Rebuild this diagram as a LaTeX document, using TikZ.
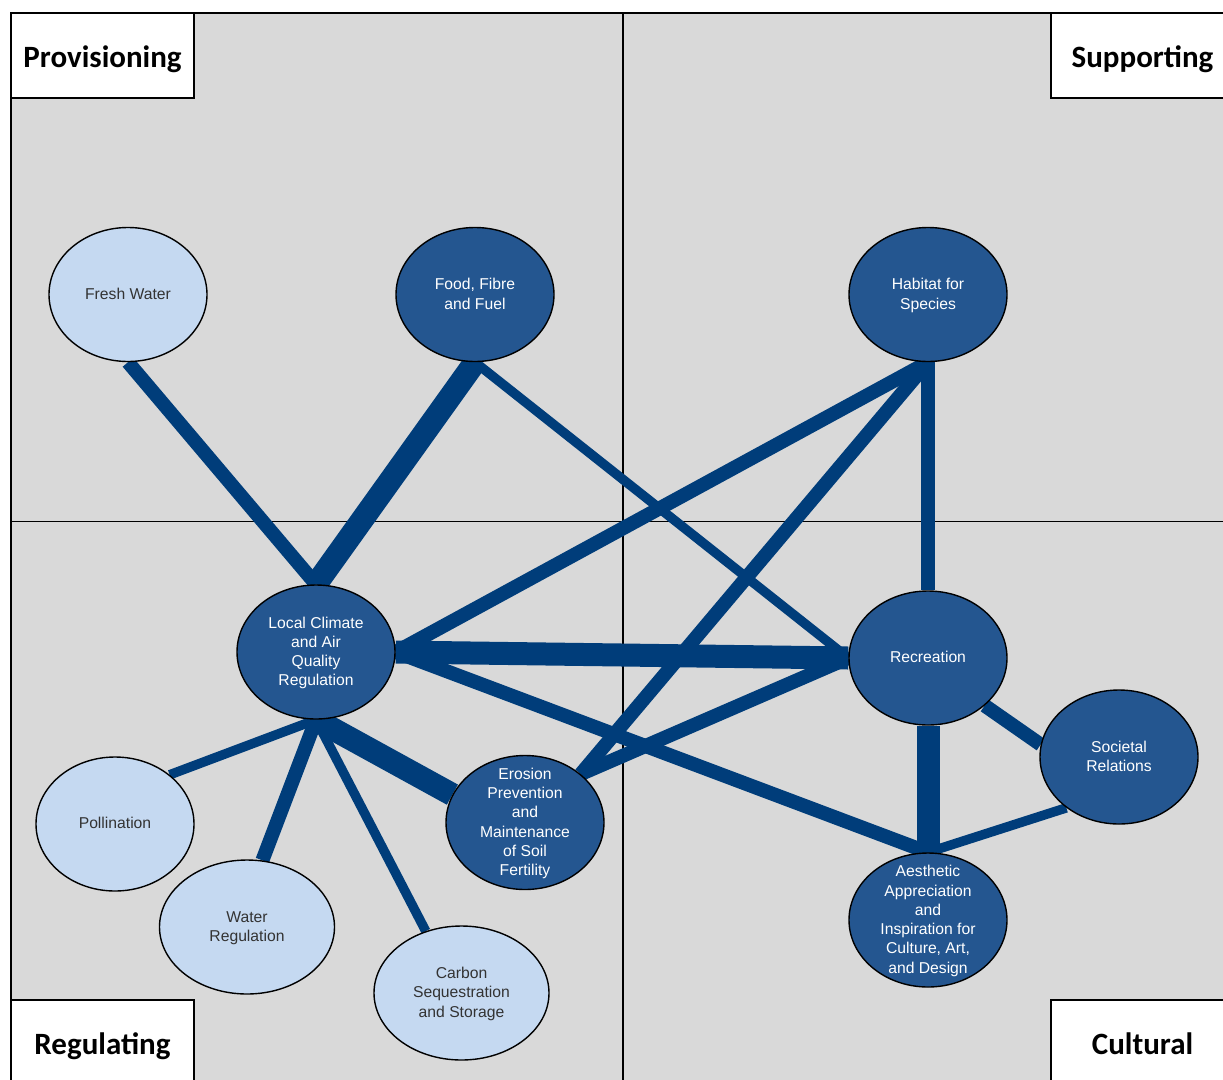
\documentclass[tikz,border=0pt]{standalone}
\usepackage{fontspec}
\setmainfont{Liberation Sans}
\newfontfamily\titlefont{Carlito}
\usetikzlibrary{shapes.geometric}

\definecolor{bubblelight}{RGB}{197,217,241}
\definecolor{bubbledark}{RGB}{36,86,144}
\definecolor{linkblue}{RGB}{0,61,122}
\definecolor{panelgrey}{RGB}{217,217,217}

\pgfdeclarelayer{bg}
\pgfdeclarelayer{links}
\pgfsetlayers{bg,links,main}

% text that does not grow the ellipse
\newcommand{\bubbletext}[1]{\makebox[0pt]{\smash{\raisebox{-0.3em}{\begin{tabular}{@{}c@{}}#1\end{tabular}}}}}

\begin{document}
\begin{tikzpicture}[x=1pt,y=-1pt,
        every node/.style={font=\fontsize{15.7}{19.3}\selectfont},
        bubble/.style={ellipse, draw=black, line width=1.4pt, inner sep=0pt,
            minimum width=158pt, minimum height=134pt},
        light/.style={bubble, fill=bubblelight, text=black!80},
        dark/.style={bubble, fill=bubbledark, text=white},
        wide/.style={minimum width=175pt},
        corner/.style={draw=black, line width=1.7pt, fill=white,
            minimum width=183pt, minimum height=85pt,
            text height=23pt, text depth=0pt,
            font=\titlefont\bfseries\fontsize{31}{36}\selectfont},
        weak/.style={draw=linkblue, line width=9.5pt},
        medium/.style={draw=linkblue, line width=14pt},
        strong/.style={draw=linkblue, line width=23pt}
    ]
    \clip (0,0) rectangle (1223,1079);
    \useasboundingbox (0,0) rectangle (1223,1079);

    % quadrants
    \begin{pgfonlayer}{bg}
        \fill[panelgrey] (11,13) rectangle (1240,1100);
        \draw[line width=1.8pt] (1240,13) -- (11,13) -- (11,1100);
        \draw[line width=1.6pt] (623,13) -- (623,1100);
        \draw[line width=1.6pt] (11,521.5) -- (1240,521.5);
    \end{pgfonlayer}

    \node[corner] (prov) at (102.5,55.5) {Provisioning};
    \node[corner] (supp) at (1142.5,55.5) {Supporting};
    \node[corner] (regu) at (102.5,1042.5) {Regulating};
    \node[corner] (cult) at (1142.5,1042.5) {Cultural};

    % services
    \node[light] (fresh) at (128,294.5) {\bubbletext{Fresh Water}};
    \node[dark] (food) at (475,294.5) {\bubbletext{Food, Fibre\\and Fuel}};
    \node[dark] (habitat) at (928,294.5) {\bubbletext{Habitat for\\Species}};
    \node[dark] (climate) at (316,652) {\bubbletext{Local Climate\\and Air\\Quality\\Regulation}};
    \node[dark] (recreation) at (928,658) {\bubbletext{Recreation}};
    \node[dark] (societal) at (1119,757) {\bubbletext{Societal\\Relations}};
    \node[dark] (erosion) at (525,822.5) {\bubbletext{Erosion\\Prevention\\and\\Maintenance\\of Soil\\Fertility}};
    \node[dark] (aesthetic) at (928,920) {\bubbletext{Aesthetic\\Appreciation\\and\\Inspiration for\\Culture, Art,\\and Design}};
    \node[light] (pollination) at (115,824) {\bubbletext{Pollination}};
    \node[light, wide] (waterreg) at (247,927) {\bubbletext{Water\\Regulation}};
    \node[light, wide] (carbon) at (461.5,993) {\bubbletext{Carbon\\Sequestration\\and Storage}};

    % links
    \begin{pgfonlayer}{links}
        \draw[medium] (fresh.south) -- (climate.north);
        \draw[strong] (food.south) -- (climate.north);
        \draw[weak] (food.south) -- (recreation.west);
        \draw[medium] (habitat.south) -- (climate.east);
        \draw[medium] (habitat.south) -- (erosion.41);
        \draw[medium] (habitat.south) -- (recreation.north);
        \draw[strong] (climate.east) -- (recreation.west);
        \draw[medium] (climate.east) -- (aesthetic.north);
        \draw[medium] (erosion.41) -- (recreation.west);
        \draw[strong] (climate.south) -- (erosion.159);
        \draw[weak] (climate.south) -- (pollination.42);
        \draw[medium] (climate.south) -- (waterreg.77);
        \draw[weak] (climate.south) -- (carbon.120);
        \draw[strong] (recreation.south) -- (aesthetic.north);
        \draw[medium] (recreation.-40) -- (societal.171);
        \draw[weak] (societal.224) -- (aesthetic.north);
    \end{pgfonlayer}
\end{tikzpicture}
\end{document}
